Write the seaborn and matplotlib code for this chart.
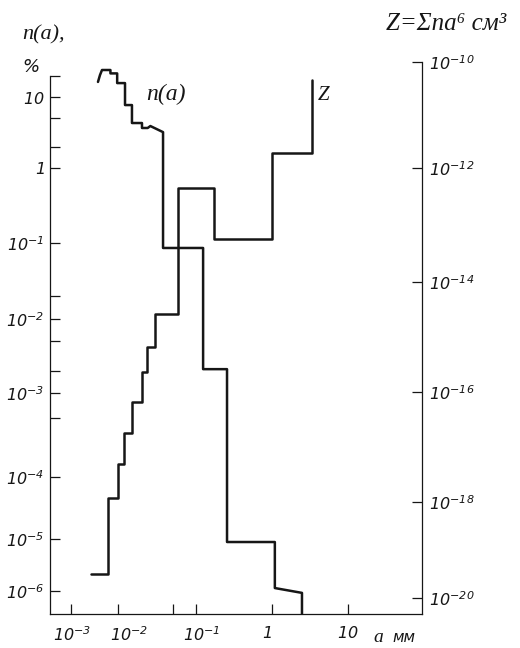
import numpy as np
import matplotlib
matplotlib.use("Agg")
import matplotlib.pyplot as plt
from matplotlib.transforms import ScaledTranslation
import seaborn as sns

# ---------------- data ----------------
# n(a) curve, % (left axis), vertices of the drawn polyline
n_a = [3.75e-3, 4.14e-3, 4.57e-3, 6.9e-3, 6.9e-3, 9.6e-3, 9.6e-3, 0.0123, 0.0123,
       0.0151, 0.0151, 0.0203, 0.0203, 0.024, 0.026, 0.0378, 0.0378, 0.124, 0.124,
       0.256, 0.256, 1.09, 1.09, 2.48, 2.48]
n_pct = [16.3, 20.4, 24.0, 24.0, 21.5, 21.5, 15.7, 15.7, 7.7,
         7.7, 4.3, 4.3, 3.66, 3.66, 3.9, 3.2, 0.086, 0.086, 2.1e-3,
         2.1e-3, 8.75e-6, 8.75e-6, 1.14e-6, 9.2e-7, 1e-8]

# Z = sum n a^6 (right axis), step function (value starts at each edge)
z_edges = [2.67e-3, 6.1e-3, 0.0100, 0.0119, 0.0151, 0.0203, 0.0236, 0.0298,
           0.0588, 0.173, 1.0, 3.36]
z_vals = [3.2e-20, 1.18e-18, 4.9e-18, 1.8e-17, 6.6e-17, 2.3e-16, 6.6e-16,
          2.6e-15, 4.5e-13, 5.7e-14, 1.9e-12, 4.6e-11]

x_ticks = [1e-3, 1e-2, 1e-1, 1, 10]
x_labels = [r"$10^{-3}$", r"$10^{-2}$", r"$10^{-1}$", r"$1$", r"$10$"]
x_minor = [0.05]
n_ticks = [10, 1, 1e-1, 1e-2, 1e-3, 1e-4, 1e-5, 1e-6]
n_labels = [r"$10$", r"$1$", r"$10^{-1}$", r"$10^{-2}$", r"$10^{-3}$",
            r"$10^{-4}$", r"$10^{-5}$", r"$10^{-6}$"]
n_minor = [20, 5, 2, 0.02, 0.005, 0.002, 0.0005]
z_ticks = [1e-10, 1e-12, 1e-14, 1e-16, 1e-18, 1e-20]
z_labels = [r"$10^{-10}$", r"$10^{-12}$", r"$10^{-14}$", r"$10^{-16}$",
            r"$10^{-18}$", r"$10^{-20}$"]

# ---------------- style ----------------
sns.set_style("white")
plt.rcParams.update({
    "font.family": ["DejaVu Sans"],
    "mathtext.fontset": "custom",
    "mathtext.rm": "DejaVu Sans:italic",
    "mathtext.it": "DejaVu Sans:italic",
    "axes.linewidth": 0.9,
})
INK = "#161616"

W, H = 520, 648
fig = plt.figure(figsize=(W / 100, H / 100), dpi=100)
L, R, B, T = 50, 422, 614, 62
ax = fig.add_axes([L / W, 1 - B / H, (R - L) / W, (B - T) / H])
ax2 = ax.twinx()


def piecewise_log(logs, pos):
    """Hand-drawn (non-uniform) logarithmic axis calibration."""
    logs = np.asarray(logs, float)
    pos = np.asarray(pos, float)
    s0 = (pos[1] - pos[0]) / (logs[1] - logs[0])
    s1 = (pos[-1] - pos[-2]) / (logs[-1] - logs[-2])

    def fwd(v):
        v = np.asarray(v, float)
        lv = np.log10(np.clip(v, 1e-300, None))
        out = np.interp(lv, logs, pos)
        out = np.where(lv < logs[0], pos[0] + (lv - logs[0]) * s0, out)
        out = np.where(lv > logs[-1], pos[-1] + (lv - logs[-1]) * s1, out)
        return out

    def inv(p):
        p = np.asarray(p, float)
        out = np.interp(p, pos, logs)
        out = np.where(p < pos[0], logs[0] + (p - pos[0]) / s0, out)
        out = np.where(p > pos[-1], logs[-1] + (p - pos[-1]) / s1, out)
        return np.power(10.0, np.clip(out, -300, 300))

    return fwd, inv


fx, ix = piecewise_log([-3, -2, -1, 0, 1], [71, 118, 196, 272, 348])
fn, inn = piecewise_log([-6, -5, -4, -3, -2, -1, 0, 1],
                        [-591, -539, -477, -393, -319, -243, -168, -97])
fz, iz = piecewise_log([-20, -18, -16, -14, -12, -10],
                       [-598, -502, -392, -282, -168, -62])

# ---------------- curves ----------------
sns.lineplot(x=n_a, y=n_pct, ax=ax, sort=False, estimator=None,
             color=INK, lw=1.8, legend=False)
sns.lineplot(x=z_edges, y=z_vals, ax=ax2, sort=False, estimator=None,
             drawstyle="steps-post", color=INK, lw=1.8, legend=False)

ax.set_xscale("function", functions=(fx, ix))
ax.set_yscale("function", functions=(fn, inn))
ax2.set_yscale("function", functions=(fz, iz))
ax.set_xlim(float(ix(L)), float(ix(R)))
ax.set_ylim(float(inn(-B)), float(inn(-T)))
ax2.set_ylim(float(iz(-B)), float(iz(-T)))

# ---------------- ticks ----------------
ax.set_xticks(x_ticks, x_labels)
ax.set_xticks(x_minor, minor=True)
ax.set_yticks(n_ticks, n_labels)
ax.set_yticks(n_minor, minor=True)
ax.yaxis.set_minor_formatter(plt.NullFormatter())
ax.xaxis.set_minor_formatter(plt.NullFormatter())
ax2.set_yticks(z_ticks, z_labels)
ax2.set_yticks([], minor=True)

ax.tick_params(axis="both", which="both", direction="in", length=7.5,
               width=0.9, color=INK, labelcolor=INK, labelsize=11.5)
ax.tick_params(axis="x", which="both", pad=8, bottom=True, top=False)
ax.tick_params(axis="y", which="both", pad=4, left=True, right=False)
ax2.tick_params(axis="y", which="both", direction="in", length=7, width=0.9,
                color=INK, labelcolor=INK, labelsize=11.5, pad=5, right=True)

for lbl, dx in zip(ax.get_xticklabels(), [1, 11, 6, -5, 0]):
    lbl.set_transform(lbl.get_transform() + ScaledTranslation(dx / 100, 0, fig.dpi_scale_trans))

# ---------------- spines ----------------
for a in (ax, ax2):
    a.spines["top"].set_visible(False)
    for s in a.spines.values():
        s.set_color(INK)
        s.set_linewidth(0.9)
ax.spines["right"].set_visible(False)
ax2.spines["left"].set_visible(False)
ax2.spines["bottom"].set_visible(False)
ax2.spines["right"].set_visible(True)
ax.spines["left"].set_bounds(float(inn(-B)), 20)
ax.grid(False)
ax2.grid(False)

# ---------------- texts ----------------
serif_it = dict(family="Liberation Serif", style="italic", color=INK)
fig.text(22 / W, 1 - 35 / H, "n(a),", ha="left", va="center", fontsize=16, **serif_it)
fig.text(31 / W, 1 - 67 / H, "%", ha="center", va="center", fontsize=13,
         style="italic", color=INK)
fig.text(166 / W, 1 - 94 / H, "n(a)", ha="center", va="center", fontsize=17, **serif_it)
fig.text(324 / W, 1 - 96 / H, "Z", ha="center", va="center", fontsize=15, **serif_it)
fig.text(386 / W, 1 - 24 / H, "Z=Σna⁶ см³", ha="left", va="center", fontsize=18, **serif_it)
fig.text(373 / W, 1 - 637 / H, "a", ha="left", va="center", fontsize=14, **serif_it)
fig.text(392 / W, 1 - 638 / H, "мм", ha="left", va="center", fontsize=11,
         style="italic", color=INK)

fig.savefig("out.png", dpi=100)
